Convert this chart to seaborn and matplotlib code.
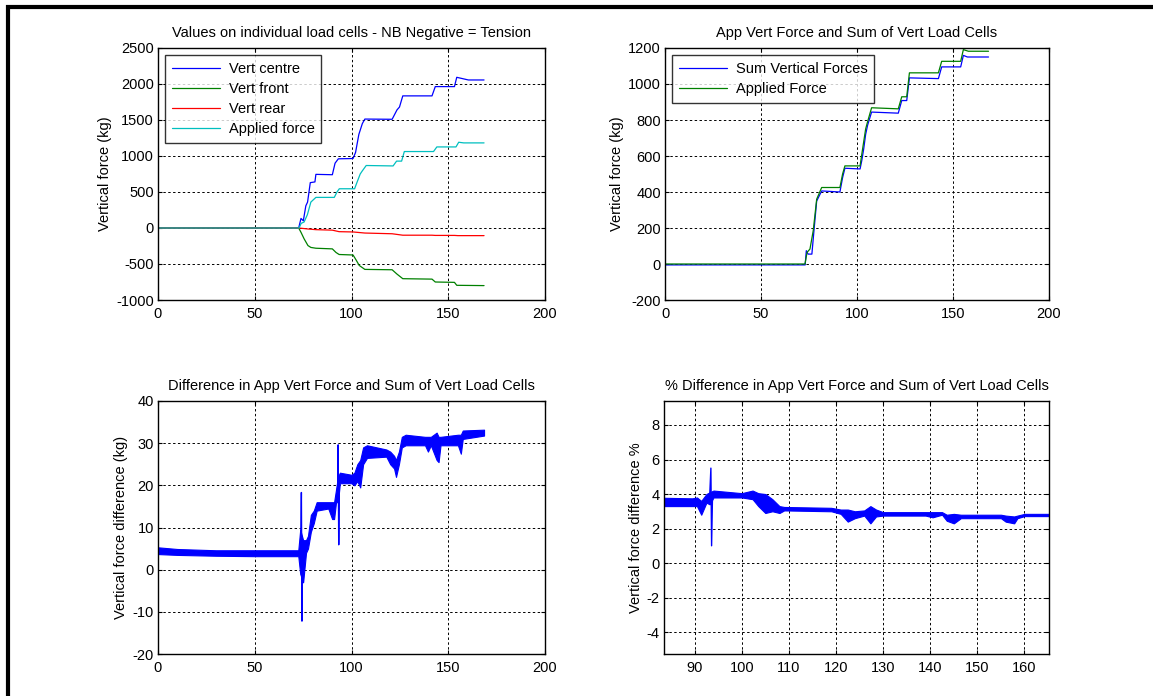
import matplotlib
matplotlib.use("Agg")
import matplotlib.pyplot as plt
from matplotlib.lines import Line2D
import seaborn as sns
import numpy as np

# ---- individual load cells (kg) ----
centre_t = [0, 72.7, 73.9, 75.1, 76.4, 77.3, 78.7, 81.1, 81.6, 90.1, 91.5, 93.2, 100.8,
            102.1, 103.8, 105.6, 106.9, 121.0, 123.5, 124.8, 126.5, 141.6, 143.3, 153.2,
            154.4, 160.4, 168.5]
centre_f = [0, 0, 133, 100, 308, 360, 630, 640, 745, 740, 900, 961, 965,
            1050, 1300, 1450, 1513, 1510, 1640, 1680, 1835, 1835, 1964, 1964,
            2093, 2056, 2056]

front_t = [0, 72.7, 73.9, 75.5, 77.5, 79.0, 81.6, 90.1, 92.0, 93.6, 100.8, 102.5, 104.0,
           106.9, 121.0, 123.5, 126.5, 141.6, 143.3, 153.2, 154.4, 168.5]
front_f = [0, 0, -60, -150, -244, -270, -281, -290, -340, -368, -375, -450, -520,
           -575, -580, -640, -704, -710, -750, -755, -796, -800]

rear_t = [0, 72.7, 78.0, 81.6, 90.1, 93.6, 100.8, 106.9, 121.0, 126.5, 141.6, 143.3,
          153.2, 155.0, 168.5]
rear_f = [0, 0, -15, -23, -30, -51, -55, -70, -80, -100, -100, -103, -103, -106, -106]

# ---- applied force and summed load cells (kg) ----
applied_t = [0, 72.9, 74.0, 75.5, 77.2, 79.0, 81.6, 91.1, 92.5, 93.7, 101.6, 102.5,
             103.5, 104.5, 105.5, 107.6, 121.5, 123.3, 125.9, 127.3, 142.4, 144.1,
             154.0, 155.4, 158.0, 168.5]
applied_f = [0, 0, 65, 83, 185, 360, 425, 425, 500, 545, 545, 610,
             680, 750, 790, 868, 862, 929, 929, 1062, 1062, 1126,
             1126, 1191, 1182, 1182]

sum_t = [0, 73.0, 73.6, 74.5, 76.5, 77.5, 79.0, 81.6, 91.1, 92.5, 93.7, 101.6, 102.5,
         103.5, 104.5, 105.5, 107.6, 121.5, 123.3, 125.9, 127.3, 142.4, 144.1,
         154.0, 155.4, 157.5, 168.5]
sum_f = [-5, -5, 74, 55, 55, 175, 350, 406, 400, 480, 532, 528, 575,
         640, 720, 770, 844, 838, 908, 908, 1034, 1030, 1095,
         1095, 1159, 1150, 1150]

# ---- difference (kg): band limits of the recorded signal ----
diff_t = [0, 10, 30, 50, 72.5, 73.5, 75.0, 76.5, 77.5, 79.0, 80.5, 82.0, 88.0, 90.0,
          91.0, 92.0, 93.0, 94.0, 100.0, 101.5, 103.0, 104.5, 106.0, 108.0, 118.0,
          120.0, 122.0, 123.0, 124.5, 126.0, 128.0, 138.0, 139.5, 141.0, 144.0,
          145.0, 146.0, 155.0, 156.5, 157.5, 168.5]
diff_lo = [3.7, 3.5, 3.3, 3.2, 3.2, -1.0, -3.0, 4.0, 5.0, 9.0, 11.0, 14.0, 14.5, 12.0,
           12.0, 16.0, 16.0, 20.5, 20.5, 20.0, 21.0, 19.5, 25.0, 26.5, 26.8,
           25.0, 24.0, 22.0, 25.0, 29.0, 29.5, 29.5, 28.0, 29.5, 26.0,
           25.5, 29.5, 29.5, 27.5, 31.0, 31.8]
diff_hi = [5.3, 4.9, 4.6, 4.6, 4.6, 9.5, 7.0, 7.0, 8.0, 13.0, 14.0, 16.0, 16.0, 16.0,
           16.0, 19.0, 22.0, 23.0, 22.5, 23.0, 25.0, 26.0, 29.0, 29.5, 28.5,
           28.0, 27.0, 26.0, 28.0, 31.5, 32.0, 31.5, 31.5, 31.5, 32.5,
           31.5, 31.5, 32.0, 32.0, 33.0, 33.2]
spike1_t = [73.8, 74.1, 74.4, 74.7]
spike1_d = [4.0, 18.3, -12.2, 3.0]
spike2_t = [92.8, 93.1, 93.4, 93.7]
spike2_d = [18.0, 29.6, 5.9, 21.0]

# ---- difference (%) ----
pct_t = [80.0, 89.5, 90.5, 91.4, 92.5, 93.2, 94.0, 100.0, 102.3, 103.5, 105.0, 106.5,
         108.0, 109.0, 119.0, 121.0, 122.5, 124.0, 126.0, 127.3, 128.5, 130.0,
         139.0, 140.5, 142.5, 143.5, 145.0, 146.5, 155.0, 156.0, 157.8, 158.5,
         160.0, 168.5]
pct_lo = [3.3, 3.3, 3.3, 2.8, 3.5, 3.4, 3.8, 3.8, 3.7, 3.3, 2.9, 3.0,
          2.9, 3.05, 3.0, 2.85, 2.4, 2.6, 2.75, 2.3, 2.7, 2.75,
          2.75, 2.65, 2.8, 2.45, 2.3, 2.6, 2.6, 2.4, 2.3, 2.6,
          2.72, 2.72]
pct_hi = [3.8, 3.75, 3.8, 3.6, 4.0, 4.1, 4.2, 4.05, 4.2, 4.05, 4.0, 3.7,
          3.3, 3.25, 3.2, 3.1, 3.1, 3.0, 3.05, 3.3, 3.1, 2.95,
          2.95, 2.95, 2.95, 2.8, 2.85, 2.8, 2.8, 2.75, 2.7, 2.75,
          2.85, 2.85]
spike3_t = [93.2, 93.45, 93.6, 93.8]
spike3_p = [3.9, 5.5, 1.0, 4.0]

BLUE, GREEN, RED, CYAN = "#0000ff", "#008000", "#ff0000", "#00bfbf"
FS = 10.5

sns.set_theme(style="white")
plt.rcParams["font.family"] = ["Liberation Sans", "DejaVu Sans"]
plt.rcParams.update({
    "font.size": FS,
    "axes.unicode_minus": False,
    "axes.edgecolor": "black",
    "axes.linewidth": 1.0,
    "text.color": "black",
    "axes.labelcolor": "black",
    "xtick.color": "black",
    "ytick.color": "black",
    "xtick.labelsize": FS,
    "ytick.labelsize": FS,
    "axes.titlesize": FS,
    "axes.labelsize": FS,
})

W, H = 1153, 696
fig = plt.figure(figsize=(W / 100, H / 100), dpi=100)


def box(l, t, r, b):
    return [l / W, 1 - b / H, (r - l) / W, (b - t) / H]


def style(ax, xlim, ylim, xt, yt):
    ax.set_xlim(*xlim)
    ax.set_ylim(*ylim)
    ax.set_xticks(xt)
    ax.set_yticks(yt)
    ax.grid(True, color="black", linestyle=(0, (2.5, 2.5)), linewidth=0.7)
    ax.tick_params(direction="in", length=3, width=0.8, top=True, right=True,
                   bottom=True, left=True, pad=3)
    ax.tick_params(axis="x", pad=5)
    for s in ax.spines.values():
        s.set_visible(True)
        s.set_color("black")
        s.set_linewidth(1.0)
    ax.set_xlabel("")


def legend(ax):
    leg = ax.legend(loc="upper left", frameon=True, fancybox=False, shadow=False,
                    handlelength=3.3, borderpad=0.45, labelspacing=0.42,
                    handletextpad=0.6, borderaxespad=0.5, fontsize=FS)
    leg.get_frame().set_edgecolor("black")
    leg.get_frame().set_linewidth(1.0)


# Individual load cells
ax1 = fig.add_axes(box(158, 48, 545, 300))
sns.lineplot(x=centre_t, y=centre_f, ax=ax1, color=BLUE, lw=0.9, estimator=None,
             sort=False, label="Vert centre")
sns.lineplot(x=front_t, y=front_f, ax=ax1, color=GREEN, lw=0.9, estimator=None,
             sort=False, label="Vert front")
sns.lineplot(x=rear_t, y=rear_f, ax=ax1, color=RED, lw=0.9, estimator=None,
             sort=False, label="Vert rear")
sns.lineplot(x=applied_t, y=applied_f, ax=ax1, color=CYAN, lw=0.9, estimator=None,
             sort=False, label="Applied force")
style(ax1, (0, 200), (-1000, 2500), np.arange(0, 201, 50), np.arange(-1000, 2501, 500))
ax1.set_ylabel("Vertical force (kg)", labelpad=3)
ax1.set_title("Values on individual load cells - NB Negative = Tension", pad=8)
legend(ax1)

# Applied force versus summed cells
ax2 = fig.add_axes(box(665, 48, 1049, 300))
sns.lineplot(x=sum_t, y=sum_f, ax=ax2, color=BLUE, lw=0.9, estimator=None,
             sort=False, label="Sum Vertical Forces")
sns.lineplot(x=applied_t, y=applied_f, ax=ax2, color=GREEN, lw=0.9, estimator=None,
             sort=False, label="Applied Force")
style(ax2, (0, 200), (-200, 1200), np.arange(0, 201, 50), np.arange(-200, 1201, 200))
ax2.set_ylabel("Vertical force (kg)", labelpad=3)
ax2.set_title("App Vert Force and Sum of Vert Load Cells", pad=8)
legend(ax2)

# Difference in kg
ax3 = fig.add_axes(box(158, 401, 545, 654))
ax3.fill_between(diff_t, diff_lo, diff_hi, color=BLUE, lw=0.8, edgecolor=BLUE)
sns.lineplot(x=spike1_t, y=spike1_d, ax=ax3, color=BLUE, lw=1.0, estimator=None, sort=False)
sns.lineplot(x=spike2_t, y=spike2_d, ax=ax3, color=BLUE, lw=1.0, estimator=None, sort=False)
style(ax3, (0, 200), (-20, 40), np.arange(0, 201, 50), np.arange(-20, 41, 10))
ax3.set_ylabel("Vertical force difference (kg)", labelpad=3)
ax3.set_title("Difference in App Vert Force and Sum of Vert Load Cells", pad=8)

# Difference in percent
ax4 = fig.add_axes(box(664, 401, 1049, 654))
ax4.fill_between(pct_t, pct_lo, pct_hi, color=BLUE, lw=0.8, edgecolor=BLUE)
sns.lineplot(x=spike3_t, y=spike3_p, ax=ax4, color=BLUE, lw=1.0, estimator=None, sort=False)
style(ax4, (83.5, 165.2), (-5.27, 9.39), np.arange(90, 161, 10), np.arange(-4, 9, 2))
ax4.set_ylabel("Vertical force difference %", labelpad=3)
ax4.set_title("% Difference in App Vert Force and Sum of Vert Load Cells", pad=8)

# Heavy frame along top and left edges of the figure
fig.add_artist(Line2D([6 / W, 1], [1 - 7 / H, 1 - 7 / H], transform=fig.transFigure,
                      color="black", lw=3.0, solid_capstyle="butt"))
fig.add_artist(Line2D([8 / W, 8 / W], [0, 1 - 5 / H], transform=fig.transFigure,
                      color="black", lw=3.0, solid_capstyle="butt"))

fig.savefig("out.png", dpi=100, facecolor="white")
